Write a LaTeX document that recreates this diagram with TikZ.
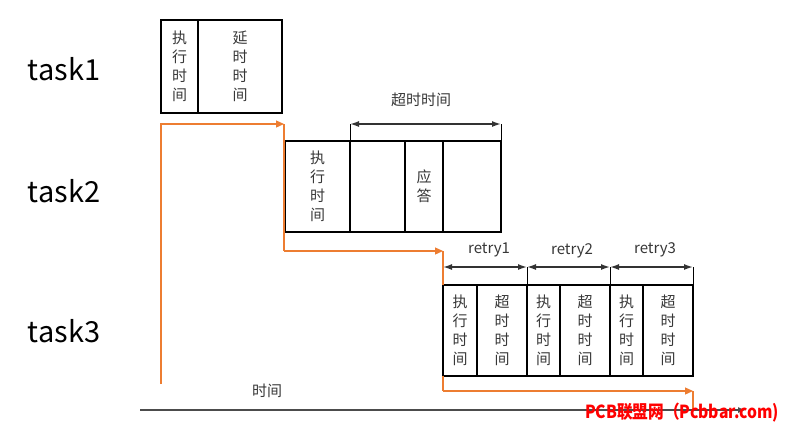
\documentclass[tikz,border=0pt]{standalone}
\usepackage{fontspec}
\setmainfont{Noto Sans CJK SC}
\usetikzlibrary{arrows.meta}
\definecolor{ora}{RGB}{237,125,49}
\definecolor{txt}{RGB}{55,55,55}
\definecolor{wred}{RGB}{255,0,0}
\begin{document}
\begin{tikzpicture}[x=1pt,y=-1pt,
 cell/.style={draw=black,line width=2pt,inner sep=0pt,outer sep=0pt,font=\fontsize{15}{19}\selectfont,text=txt,align=center},
 tasklbl/.style={font=\fontsize{29}{34}\selectfont,text=black},
 small/.style={font=\fontsize{15}{18}\selectfont,text=txt},
 flow/.style={draw=ora,line width=1.2pt},
 flowarr/.style={flow,-{Triangle[length=8pt,width=7pt]}},
 dim/.style={draw=black!80,line width=1.5pt,{Latex[length=9pt,width=6pt]}-{Latex[length=9pt,width=6pt]}},
 tick/.style={draw=black,line width=0.8pt},
 axis/.style={draw=black!70,line width=1.5pt,-{Latex[length=8pt,width=6pt]}}]
\useasboundingbox (0,0) rectangle (786,429);

% task labels
\node[tasklbl] (l1) at (64,69) {task1};
\node[tasklbl] (l2) at (64,191) {task2};
\node[tasklbl] (l3) at (64,331) {task3};

% task1
\node[cell,minimum width=37pt,minimum height=93pt] (t1a) at (179.5,66.5) {执\\行\\时\\间};
\node[cell,minimum width=84pt,minimum height=93pt] (t1b) at (240,66.5) {延\\时\\时\\间};

% task2
\node[cell,minimum width=65pt,minimum height=91pt] (t2a) at (317.5,186.5) {执\\行\\时\\间};
\node[cell,minimum width=55pt,minimum height=91pt] (t2b) at (377.5,186.5) {};
\node[cell,minimum width=38pt,minimum height=91pt] (t2c) at (424,186.5) {应\\答};
\node[cell,minimum width=58pt,minimum height=91pt] (t2d) at (472,186.5) {};

% task3
\node[cell,minimum width=34pt,minimum height=91pt] (t3a) at (460,330.5) {执\\行\\时\\间};
\node[cell,minimum width=50pt,minimum height=91pt] (t3b) at (502,330.5) {超\\时\\时\\间};
\node[cell,minimum width=33pt,minimum height=91pt] (t3c) at (543.5,330.5) {执\\行\\时\\间};
\node[cell,minimum width=50pt,minimum height=91pt] (t3d) at (585,330.5) {超\\时\\时\\间};
\node[cell,minimum width=33pt,minimum height=91pt] (t3e) at (626.5,330.5) {执\\行\\时\\间};
\node[cell,minimum width=50pt,minimum height=91pt] (t3f) at (668,330.5) {超\\时\\时\\间};

% timeout dimension for task2
\coordinate (da) at (350,124);
\coordinate (db) at (501,124);
\draw[tick] (da) -- (t2b.north west);
\draw[tick] (db) -- (t2d.north east);
\draw[dim] (da) -- (db);
\node[small] (lto) at (421,100) {超时时间};

% retry dimensions
\coordinate (r0) at (443,267);
\coordinate (r1) at (527,267);
\coordinate (r2) at (610,267);
\coordinate (r3) at (693,267);
\draw[tick] (r1) -- (t3b.north east);
\draw[tick] (r2) -- (t3d.north east);
\draw[tick] (r3) -- (t3f.north east);
\draw[dim] (r0) -- (r1);
\draw[dim] (r1) -- (r2);
\draw[dim] (r2) -- (r3);
\node[small] (lr1) at (489,250) {retry1};
\node[small] (lr2) at (572,251) {retry2};
\node[small] (lr3) at (655,250) {retry3};

% orange flow
\coordinate (o0) at (161,384);
\coordinate (o1) at (284,124);
\coordinate (o2) at (284,251);
\coordinate (o3) at (443,251);
\coordinate (o4) at (443,391);
\coordinate (o5) at (693,391);
\coordinate (o6) at (693,410);
\draw[flowarr] (o0) |- (o1);
\draw[flow] (o1) -- (o2);
\draw[flowarr] (o2) -- (o3);
\draw[flow] (o3) -- (r0) -- (t3a.north west);
\draw[flow] (t3a.south west) -- (o4);
\draw[flowarr] (o4) -- (o5);
\draw[flow] (o5) -- (o6);

% time axis
\coordinate (ax0) at (140,410);
\coordinate (ax1) at (746,410);
\draw[axis] (ax0) -- (ax1);
\node[small] (lt) at (267,391) {时间};

% watermark
\node[font=\bfseries\fontsize{18}{21}\selectfont,text=wred,inner sep=0pt] (wm) at (682,413) {\scalebox{0.87}[1]{PCB联盟网（Pcbbar.com)}};
\end{tikzpicture}
\end{document}
